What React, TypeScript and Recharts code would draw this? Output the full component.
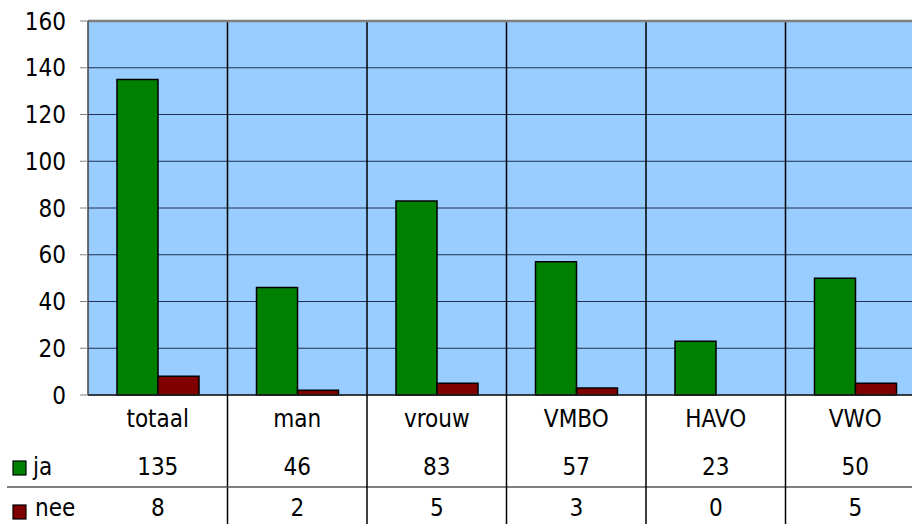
import { Bar, BarChart, CartesianGrid, ReferenceLine, XAxis, YAxis } from "recharts";

const categories = ["totaal", "man", "vrouw", "VMBO", "HAVO", "VWO"];
const jaValues = [135, 46, 83, 57, 23, 50];
const neeValues = [8, 2, 5, 3, 0, 5];
const yTicks = [0, 20, 40, 60, 80, 100, 120, 140, 160];

const rows = categories.map((label, i) => ({ label, ja: jaValues[i], nee: neeValues[i] }));

const CHART_W = 925;
const CHART_H = 524;
const Y_AXIS_W = 88;
const X_AXIS_H = 129;
const FONT = "'DejaVu Sans Condensed', 'DejaVu Sans', sans-serif";
const FONT_SIZE = 24;
const GREEN = "#008000";
const RED = "#800000";

function TableTick(props: any) {
  const { x, y, payload, index } = props;
  const i = payload?.index ?? index;
  const band = (CHART_W - Y_AXIS_W) / categories.length;
  const textStyle = { fontFamily: FONT, fontSize: FONT_SIZE, fill: "#000" };
  return (
    <g>
      <text x={x} y={y + 32} textAnchor="middle" {...textStyle}>
        {payload.value}
      </text>
      <text x={x} y={y + 80} textAnchor="middle" {...textStyle}>
        {jaValues[i]}
      </text>
      <text x={x} y={y + 121} textAnchor="middle" {...textStyle}>
        {neeValues[i]}
      </text>
      {i < categories.length - 1 && (
        <line x1={x + band / 2} x2={x + band / 2} y1={y} y2={CHART_H} stroke="#000" strokeWidth={1.5} />
      )}
      {i === 0 && (
        <g>
          <line x1={7} x2={CHART_W} y1={y + 92} y2={y + 92} stroke="#555" strokeWidth={1.5} />
          <rect x={13} y={y + 66} width={13} height={14} fill={GREEN} stroke="#000" strokeWidth={1.2} />
          <text x={33} y={y + 80} {...textStyle}>ja</text>
          <rect x={13} y={y + 110} width={13} height={14} fill={RED} stroke="#000" strokeWidth={1.2} />
          <text x={35} y={y + 121} {...textStyle}>nee</text>
        </g>
      )}
    </g>
  );
}

export default function App() {
  return (
    <div
      style={{
        position: "absolute",
        left: 0,
        top: 0,
        width: 912,
        height: 524,
        overflow: "hidden",
        background: "#fff",
      }}
    >
      <BarChart
        width={CHART_W}
        height={CHART_H}
        data={rows}
        margin={{ top: 21, right: 0, bottom: 0, left: 0 }}
        barCategoryGap={29}
        barGap={0}
        style={{ fontFamily: FONT }}
      >
        <CartesianGrid fill="#99CCFF" vertical={false} stroke="#1F3050" strokeWidth={1} />
        <CartesianGrid
          horizontal={false}
          stroke="#000"
          strokeWidth={1.5}
          fillOpacity={0}
          verticalCoordinatesGenerator={({ offset }: any) =>
            categories.slice(1).map((_, i) => offset.left + ((i + 1) * offset.width) / categories.length)
          }
        />
        <XAxis
          dataKey="label"
          height={X_AXIS_H}
          tickLine={false}
          tickSize={0}
          tickMargin={0}
          axisLine={{ stroke: "#222", strokeWidth: 1.5 }}
          tick={<TableTick />}
          interval={0}
        />
        <YAxis
          width={Y_AXIS_W}
          domain={[0, 160]}
          ticks={yTicks}
          interval={0}
          tickSize={8}
          tickMargin={14}
          tickLine={{ stroke: "#808080" }}
          axisLine={{ stroke: "#404040", strokeWidth: 1.5 }}
          tick={{ fill: "#000", fontSize: FONT_SIZE, fontFamily: FONT }}
        />
        <ReferenceLine y={160} stroke="#808080" strokeWidth={2.5} />
        <Bar dataKey="ja" fill={GREEN} stroke="#000" strokeWidth={1.5} isAnimationActive={false} />
        <Bar dataKey="nee" fill={RED} stroke="#000" strokeWidth={1.5} isAnimationActive={false} />
      </BarChart>
    </div>
  );
}
